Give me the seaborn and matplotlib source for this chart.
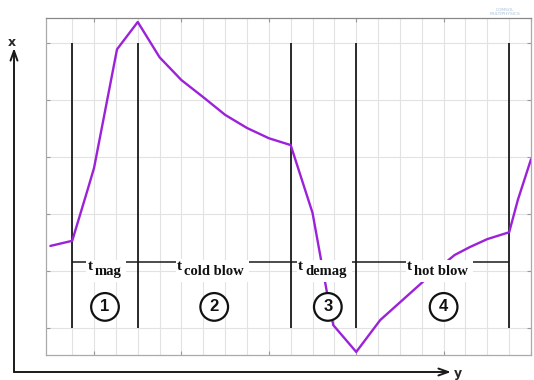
import matplotlib
matplotlib.use("Agg")
import matplotlib.pyplot as plt
import seaborn as sns
import numpy as np
import pandas as pd

# curve of the cycle (grid units)
curve_x = [2.0, 3.0, 3.7, 4.0, 5.05, 6.0, 7.0, 8.0, 9.0, 10.0, 11.0, 12.0, 13.0,
           14.0, 14.35, 14.7, 14.95, 16.0, 17.1, 19.4, 20.5, 21.2, 22.0, 23.0, 23.4, 24.0]
curve_y = [1.44, 1.53, 2.42, 2.81, 4.89, 5.37, 4.75, 4.35, 4.05, 3.74, 3.51, 3.33, 3.21,
           2.02, 1.28, 0.54, 0.05, -0.42, 0.14, 0.93, 1.28, 1.42, 1.56, 1.68, 2.25, 2.96]

# phases
phase_x = [3, 6, 13, 16, 23]
phase_names = ['mag', 'cold blow', 'demag', 'hot blow']
label_x = [4.64, 9.49, 14.62, 19.88]
number_x = [4.5, 9.5, 14.7, 20.0]
numbers = ['1', '2', '3', '4']

sns.set_style("white")

fig = plt.figure(figsize=(5.34, 3.80), dpi=100)
ax = fig.add_axes([46 / 534, 1 - 355 / 380, 485 / 534, 337 / 380])

df = pd.DataFrame({'x': curve_x, 'y': curve_y})
sns.lineplot(data=df, x='x', y='y', ax=ax, color='#9B22D8', linewidth=1.7, sort=False, zorder=3)

ax.set_xlim(1.8, 24.0)
ax.set_ylim(-0.474, 5.44)
ax.set_xticks(np.arange(4, 25, 4))
ax.set_xticks(np.arange(3, 25, 1), minor=True)
ax.set_yticks(np.arange(0, 6, 1))
ax.set_xticklabels([])
ax.set_yticklabels([])
ax.set_xlabel('')
ax.set_ylabel('')
ax.grid(True, which='both', color='#e2e2e2', linewidth=0.8)
ax.set_axisbelow(True)
ax.tick_params(which='major', direction='in', length=3, color='#999999',
               top=True, bottom=True, left=True, right=True)
ax.tick_params(which='minor', length=0)
for s in ax.spines.values():
    s.set_color('#aaaaaa')
    s.set_linewidth(0.9)
ax.spines['top'].set_color('#888888')

# phase boundaries
ax.vlines(phase_x, 0, 5, color='#1a1a1a', linewidth=1.3, zorder=2)
ax.hlines(1.16, phase_x[0], phase_x[-1], color='#1a1a1a', linewidth=1.1, zorder=2)

for xx, name in zip(label_x, phase_names):
    sub = ax.text(xx, 1.0, name, ha='center', va='center', fontsize=10.5,
                  fontweight='bold', family='Liberation Serif', color='#111111', zorder=5,
                  bbox=dict(fc='white', ec='none', pad=3.5))
    ax.annotate('t', xy=(0, 1), xycoords=sub, xytext=(-1.5, 3), textcoords='offset points',
                ha='right', va='top', fontsize=11, fontweight='bold',
                family='Liberation Serif', color='#111111', zorder=6,
                bbox=dict(fc='white', ec='none', pad=0.8))

for xx, n in zip(number_x, numbers):
    ax.text(xx, 0.37, n, ha='center', va='center', fontsize=12, fontweight='bold',
            family='Liberation Sans', color='#111111', zorder=6,
            bbox=dict(boxstyle='circle,pad=0.38', fc='white', ec='#111111', lw=1.6))

# outer arrow axes (figure pixels)
arrow = dict(arrowstyle='->,head_length=0.7,head_width=0.25', color='#1a1a1a',
             lw=1.4, shrinkA=0, shrinkB=0)
ax.annotate('', xy=(14, 332), xytext=(14, 8), xycoords='figure pixels',
            textcoords='figure pixels', arrowprops=arrow, annotation_clip=False)
ax.annotate('', xy=(451, 8), xytext=(14, 8), xycoords='figure pixels',
            textcoords='figure pixels', arrowprops=arrow, annotation_clip=False)
fig.text(12 / 534, 338 / 380, 'x', ha='center', va='center', fontsize=9, fontweight='bold')
fig.text(458 / 534, 6 / 380, 'y', ha='center', va='center', fontsize=9, fontweight='bold')

fig.text(505 / 534, 372 / 380, 'COMSOL\nMULTIPHYSICS', ha='center', va='top',
         fontsize=3.2, color='#a9c0d6', linespacing=0.9)

fig.savefig('out.png', dpi=100)
